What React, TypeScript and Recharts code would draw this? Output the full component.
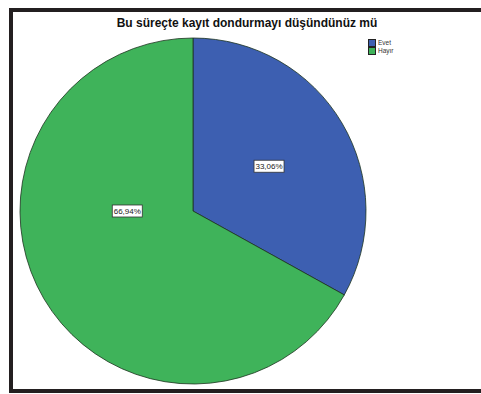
import React from 'react';
import { PieChart, Pie, Cell, Legend } from 'recharts';

const categories = ['Evet', 'Hayır'];
const percents = [33.06, 66.94];
const colors = ['#3d5fb1', '#3fb35a'];

const data = categories.map((name, i) => ({ name, value: percents[i] }));

const RADIAN = Math.PI / 180;

const renderLabel = (props: any) => {
  const { cx, cy, midAngle, outerRadius, percent, index } = props;
  let x: number;
  let y: number;
  if (percent > 0.5) {
    x = cx - outerRadius * 0.38;
    y = cy;
  } else {
    x = cx + outerRadius * 0.51 * Math.cos(-midAngle * RADIAN);
    y = cy + outerRadius * 0.51 * Math.sin(-midAngle * RADIAN);
  }
  const text = percents[index].toFixed(2).replace('.', ',') + '%';
  return (
    <g>
      <rect x={x - 15} y={y - 6} width={30} height={12} fill="#fff" stroke="#333" strokeWidth={0.8} />
      <text x={x} y={y} textAnchor="middle" dominantBaseline="central" fontSize={8} fill="#222" fontFamily="Liberation Sans, Arial, sans-serif">
        {text}
      </text>
    </g>
  );
};

const renderLegend = (props: any) => {
  const { payload } = props;
  return (
    <div style={{ fontFamily: 'Liberation Sans, Arial, sans-serif', fontSize: 6.5, color: '#333', lineHeight: '8px' }}>
      {payload.map((p: any) => (
        <div key={p.value} style={{ display: 'flex', alignItems: 'center' }}>
          <span style={{ display: 'inline-block', width: 6, height: 6, background: p.color, border: '0.5px solid #222', marginRight: 2 }} />
          {p.value}
        </div>
      ))}
    </div>
  );
};

export default function App() {
  return (
    <div style={{ position: 'absolute', left: 0, top: 0, width: 481, height: 394, background: '#fff', overflow: 'hidden' }}>
      <div style={{ position: 'absolute', left: 9, top: 8, width: 500, height: 377, border: '4px solid #231f20', boxSizing: 'content-box' }} />
      <div style={{ position: 'absolute', left: 0, width: 494, top: 16, textAlign: 'center', fontFamily: 'Liberation Sans, Arial, sans-serif', fontWeight: 'bold', fontSize: 12, color: '#111' }}>
        Bu süreçte kayıt dondurmayı düşündünüz mü
      </div>
      <div style={{ position: 'absolute', left: 0, top: 0 }}>
        <PieChart width={481} height={394} margin={{ top: 0, right: 0, bottom: 0, left: 0 }}>
          <Pie
            data={data}
            dataKey="value"
            nameKey="name"
            cx={193}
            cy={211}
            outerRadius={173}
            startAngle={90}
            endAngle={-270}
            stroke="#1d3320"
            strokeWidth={0.8}
            label={renderLabel}
            labelLine={false}
            isAnimationActive={false}
          >
            {data.map((d, i) => (
              <Cell key={d.name} fill={colors[i]} />
            ))}
          </Pie>
          <Legend
            layout="vertical"
            verticalAlign="top"
            align="right"
            content={renderLegend}
            wrapperStyle={{ left: 368, top: 39, width: 40 }}
          />
        </PieChart>
      </div>
    </div>
  );
}
